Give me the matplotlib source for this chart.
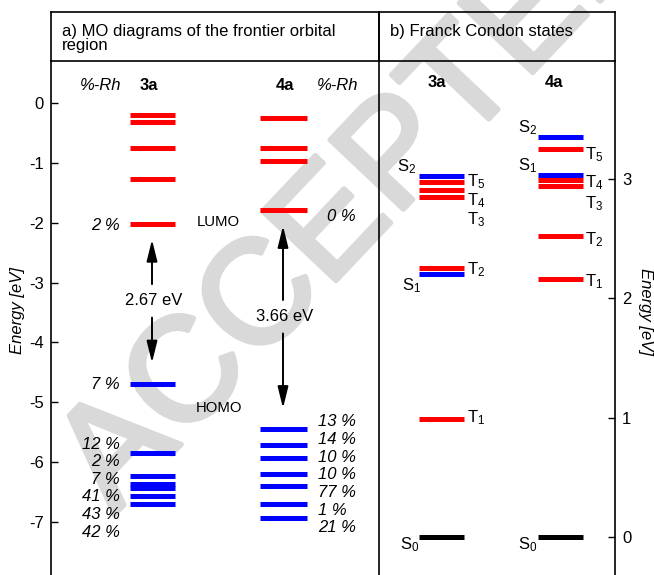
import matplotlib
matplotlib.use('Agg')
import matplotlib.pyplot as plt
import matplotlib.patheffects as pe

plt.rcParams['font.family'] = ['Liberation Sans', 'DejaVu Sans']
plt.rcParams['axes.unicode_minus'] = False
plt.rcParams['mathtext.fontset'] = 'custom'
plt.rcParams['mathtext.rm'] = 'Liberation Sans'
plt.rcParams['mathtext.it'] = 'Liberation Sans:italic'

# ---------------- data ----------------
mo_3a_unocc = [-0.20, -0.31, -0.75, -1.27, -2.02]
mo_3a_occ = [-4.69, -5.85, -6.24, -6.36, -6.44, -6.57, -6.71]
rh_3a_lumo = '2 %'
rh_3a_occ = ['7 %', '12 %', '2 %', '7 %', '41 %', '43 %', '42 %']

mo_4a_unocc = [-0.25, -0.74, -0.97, -1.79]
mo_4a_occ = [-5.45, -5.72, -5.94, -6.20, -6.40, -6.71, -6.93]
rh_4a_lumo = '0 %'
rh_4a_occ = ['13 %', '14 %', '10 %', '10 %', '77 %', '1 %', '21 %']

gap_3a = '2.67 eV'
gap_4a = '3.66 eV'

state_names = ['S0', 'S1', 'S2', 'T1', 'T2', 'T3', 'T4', 'T5']
state_colors = ['black', 'blue', 'blue', 'red', 'red', 'red', 'red', 'red']
states_3a = [0.0, 2.20, 3.02, 0.99, 2.25, 2.85, 2.91, 2.97]
states_4a = [0.0, 3.03, 3.35, 2.16, 2.52, 2.94, 2.99, 3.25]

left_ticks = [0, -1, -2, -3, -4, -5, -6, -7]
right_ticks = [0, 1, 2, 3]

# ---------------- layout ----------------
W, H = 654, 575
fig = plt.figure(figsize=(W / 100, H / 100), dpi=100)

def rect(x0, y0, x1, y1):
    return [x0 / W, 1 - y1 / H, (x1 - x0) / W, (y1 - y0) / H]

XL, XM, XR, YT, YH = 51, 379, 615, 12, 61
FS = 12
LW = 1.2
BAR = 3.6

# watermark
fig.text(362 / W, 1 - 198 / H, 'ACCEPTED', rotation=46.6, fontsize=106,
         color='#d9d9d9', ha='center', va='center', zorder=-5,
         path_effects=[pe.withStroke(linewidth=3.5, foreground='#d9d9d9')])

# header boxes
for (x0, x1) in [(XL, XM), (XM, XR)]:
    hx = fig.add_axes(rect(x0, YT, x1, YH))
    hx.set_facecolor('none')
    hx.set_xticks([]); hx.set_yticks([])
    for s in hx.spines.values():
        s.set_linewidth(LW)
    hx.spines['bottom'].set_visible(False)
fig.text(62 / W, 1 - 36 / H, 'a) MO diagrams of the frontier orbital', ha='left',
         va='baseline', fontsize=FS)
fig.text(62 / W, 1 - 50 / H, 'region', ha='left', va='baseline', fontsize=FS)
fig.text(390 / W, 1 - 36 / H, 'b) Franck Condon states', ha='left', va='baseline', fontsize=FS)

# ---------------- left panel ----------------
ax = fig.add_axes(rect(XL, YH, XM, H))
ax.set_facecolor('none')
ax.set_xlim(0, XM - XL)
ax.set_ylim(-7.89, 0.707)
for s in ['top', 'left', 'right']:
    ax.spines[s].set_linewidth(LW)
ax.spines['bottom'].set_visible(False)
ax.set_xticks([])
ax.set_yticks(left_ticks)
ax.set_yticklabels([str(t) for t in left_ticks])
ax.tick_params(axis='y', direction='in', length=5, width=1, labelsize=FS, pad=5)

x3a = (79, 124)
x4a = (209, 256)
ax.hlines(mo_3a_unocc, *x3a, colors='red', lw=BAR)
ax.hlines(mo_3a_occ, *x3a, colors='blue', lw=BAR)
ax.hlines(mo_4a_unocc, *x4a, colors='red', lw=BAR)
ax.hlines(mo_4a_occ, *x4a, colors='blue', lw=BAR)

ax.text(50, 0.30, '%-Rh', style='italic', ha='center', va='center', fontsize=FS)
ax.text(287, 0.30, '%-Rh', style='italic', ha='center', va='center', fontsize=FS)
ax.text(98, 0.30, '3a', weight='bold', ha='center', va='center', fontsize=FS)
ax.text(234, 0.30, '4a', weight='bold', ha='center', va='center', fontsize=FS)

ax.text(69, mo_3a_unocc[-1] - 0.03, rh_3a_lumo, style='italic', ha='right', va='center', fontsize=FS)
ax.text(276, mo_4a_unocc[-1] - 0.11, rh_4a_lumo, style='italic', ha='left', va='center', fontsize=FS)
ax.text(69, mo_3a_occ[0] - 0.01, rh_3a_occ[0], style='italic', ha='right', va='center', fontsize=FS)
for i, lab in enumerate(rh_3a_occ[1:]):
    ax.text(69, -5.70 - 0.295 * i, lab, style='italic', ha='right', va='center', fontsize=FS)
for i, lab in enumerate(rh_4a_occ):
    ax.text(267, -5.33 - 0.295 * i, lab, style='italic', ha='left', va='center', fontsize=FS)

ax.text(146, -1.99, 'LUMO', ha='left', va='center', fontsize=10.7)
ax.text(145, -5.10, 'HOMO', ha='left', va='center', fontsize=10.7)

aprops = dict(arrowstyle='-|>,head_length=1.3,head_width=0.32', color='black',
              lw=1.4, shrinkA=0, shrinkB=0)
for xc, lumo, homo, txt in [(101, mo_3a_unocc[-1], mo_3a_occ[0], gap_3a),
                            (232, mo_4a_unocc[-1], mo_4a_occ[0], gap_4a)]:
    mid = (lumo + homo) / 2 + 0.05
    ax.annotate('', xy=(xc, lumo - 0.26), xytext=(xc, mid + 0.28), arrowprops=aprops)
    ax.annotate('', xy=(xc, homo + 0.35), xytext=(xc, mid - 0.28), arrowprops=aprops)
    ax.text(xc + 1.5, mid, txt, ha='center', va='center', fontsize=FS)

fig.text(18 / W, 1 - 310 / H, 'Energy [eV]', rotation=90, style='italic',
         ha='center', va='center', fontsize=FS)

# ---------------- right panel ----------------
bx = fig.add_axes(rect(XM, YH, XR, H))
bx.set_facecolor('none')
bx.set_xlim(0, XR - XM)
bx.set_ylim(-0.315, 3.986)
for s in ['top', 'right']:
    bx.spines[s].set_linewidth(LW)
bx.spines['bottom'].set_visible(False)
bx.spines['left'].set_visible(False)
bx.set_xticks([])
bx.yaxis.tick_right()
bx.set_yticks(right_ticks)
bx.set_yticklabels([str(t) for t in right_ticks])
bx.tick_params(axis='y', direction='in', length=5, width=1, labelsize=FS, pad=5)

bx.hlines(states_3a, 40, 85, colors=state_colors, lw=BAR)
bx.hlines(states_4a, 159, 204, colors=state_colors, lw=BAR)

bx.text(58, 3.81, '3a', weight='bold', ha='center', va='center', fontsize=FS)
bx.text(175, 3.81, '4a', weight='bold', ha='center', va='center', fontsize=FS)

def sub(name):
    return name[0] + r'$_{\mathrm{' + name[1] + '}}$'

# label positions (x, energy, alignment) for each state
lab3 = {'S0': (31, -0.06, 'center'), 'S1': (33, 2.11, 'center'), 'S2': (28, 3.10, 'center'),
        'T1': (88, 1.00, 'left'), 'T2': (88, 2.24, 'left'), 'T3': (88, 2.66, 'left'),
        'T4': (88, 2.82, 'left'), 'T5': (88, 2.98, 'left')}
lab4 = {'S0': (149, -0.065, 'center'), 'S1': (149, 3.11, 'center'), 'S2': (149, 3.43, 'center'),
        'T1': (206, 2.14, 'left'), 'T2': (206, 2.49, 'left'), 'T3': (206, 2.79, 'left'),
        'T4': (206, 2.97, 'left'), 'T5': (206, 3.20, 'left')}
for labs in (lab3, lab4):
    for name in state_names:
        x, y, ha = labs[name]
        bx.text(x, y, sub(name), ha=ha, va='center', fontsize=FS)

fig.text(645 / W, 1 - 311 / H, 'Energy [eV]', rotation=270, style='italic',
         ha='center', va='center', fontsize=FS)

fig.savefig('out.png', dpi=100)
